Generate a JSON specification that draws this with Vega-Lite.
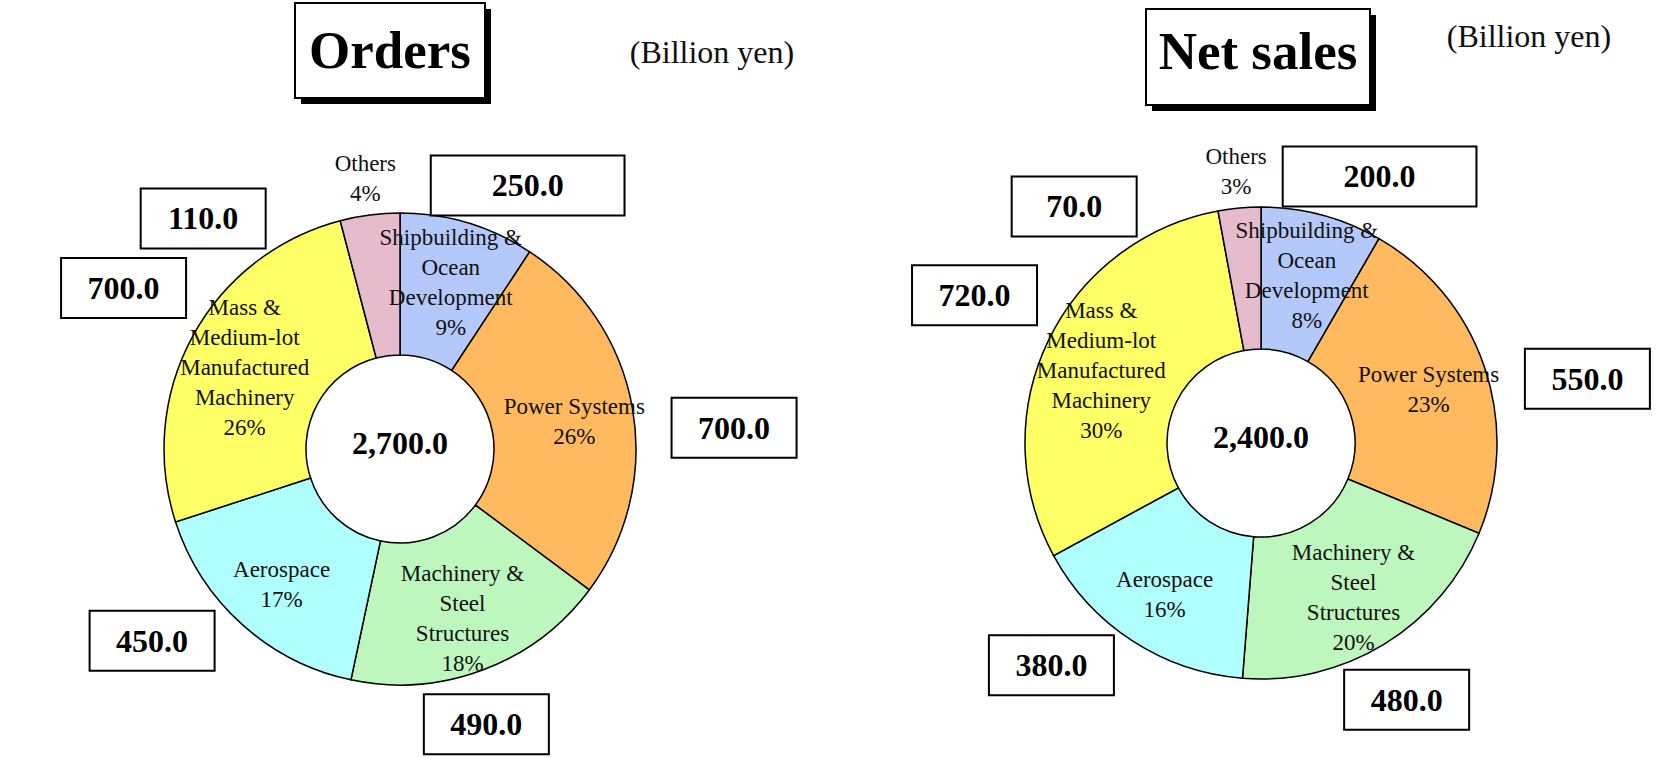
{
  "$schema": "https://vega.github.io/schema/vega-lite/v6.json",
  "padding": 0,
  "autosize": {"type": "pad"},
  "spacing": 0,
  "background": "white",
  "config": {"view": {"stroke": null}, "text": {"font": "Liberation Serif"}},
  "datasets": {
    "orders": [
      {"segment": "Shipbuilding & Ocean Development", "label": "Shipbuilding &\nOcean\nDevelopment", "value": 250, "order": 1},
      {"segment": "Power Systems", "label": "Power Systems", "value": 700, "order": 2},
      {"segment": "Machinery & Steel Structures", "label": "Machinery &\nSteel\nStructures", "value": 490, "order": 3},
      {"segment": "Aerospace", "label": "Aerospace", "value": 450, "order": 4},
      {"segment": "Mass & Medium-lot Manufactured Machinery", "label": "Mass &\nMedium-lot\nManufactured\nMachinery", "value": 700, "order": 5},
      {"segment": "Others", "label": "Others", "value": 110, "order": 6}
    ],
    "sales": [
      {"segment": "Shipbuilding & Ocean Development", "label": "Shipbuilding &\nOcean\nDevelopment", "value": 200, "order": 1},
      {"segment": "Power Systems", "label": "Power Systems", "value": 550, "order": 2},
      {"segment": "Machinery & Steel Structures", "label": "Machinery &\nSteel\nStructures", "value": 480, "order": 3},
      {"segment": "Aerospace", "label": "Aerospace", "value": 380, "order": 4},
      {"segment": "Mass & Medium-lot Manufactured Machinery", "label": "Mass &\nMedium-lot\nManufactured\nMachinery", "value": 720, "order": 5},
      {"segment": "Others", "label": "Others", "value": 70, "order": 6}
    ]
  },
  "resolve": {"scale": {"x": "independent", "y": "independent", "theta": "independent"}},
  "hconcat": [
    {
      "width": 830,
      "height": 758,
      "data": {"name": "orders"},
      "transform": [
        {"joinaggregate": [{"op": "sum", "field": "value", "as": "total"}]},
        {"window": [{"op": "sum", "field": "value", "as": "cum"}], "sort": [{"field": "order", "order": "ascending"}], "frame": [null, 0]},
        {"calculate": "datum.cum - datum.value / 2", "as": "midv"},
        {"calculate": "2 * PI * datum.midv / datum.total + (datum.value / datum.total < 0.05 ? -0.5 : 0.1)", "as": "ang"},
        {"calculate": "335 * sin(datum.ang)", "as": "bx"},
        {"calculate": "285 * cos(datum.ang)", "as": "by"},
        {"calculate": "datum.label + '\\n' + format(datum.value / datum.total, '.0%')", "as": "txt"}
      ],
      "layer": [
        {
          "transform": [{"filter": "datum.order === 1"}],
          "mark": {"type": "rect", "color": "black"},
          "encoding": {
            "x": {"datum": -99, "type": "quantitative", "scale": {"domain": [-400, 430], "nice": false, "zero": false}, "axis": null},
            "x2": {"datum": 91},
            "y": {"datum": 440, "type": "quantitative", "scale": {"domain": [-309, 449], "nice": false, "zero": false}, "axis": null},
            "y2": {"datum": 345}
          }
        },
        {
          "transform": [{"filter": "datum.order === 1"}],
          "mark": {"type": "rect", "fill": "white", "stroke": "black", "strokeWidth": 2},
          "encoding": {
            "x": {"datum": -105, "type": "quantitative", "scale": {"domain": [-400, 430], "nice": false, "zero": false}, "axis": null},
            "x2": {"datum": 85},
            "y": {"datum": 446, "type": "quantitative", "scale": {"domain": [-309, 449], "nice": false, "zero": false}, "axis": null},
            "y2": {"datum": 351}
          }
        },
        {
          "transform": [{"filter": "datum.order === 1"}],
          "mark": {"type": "text", "fontSize": 53, "fontWeight": "bold", "align": "center", "baseline": "middle", "color": "black"},
          "encoding": {
            "x": {"datum": -10, "type": "quantitative", "scale": {"domain": [-400, 430], "nice": false, "zero": false}, "axis": null},
            "y": {"datum": 397, "type": "quantitative", "scale": {"domain": [-309, 449], "nice": false, "zero": false}, "axis": null},
            "text": {"value": "Orders"}
          }
        },
        {
          "transform": [{"filter": "datum.order === 1"}],
          "mark": {"type": "text", "fontSize": 32, "align": "center", "baseline": "middle", "color": "#111"},
          "encoding": {
            "x": {"datum": 312, "type": "quantitative", "scale": {"domain": [-400, 430], "nice": false, "zero": false}, "axis": null},
            "y": {"datum": 396, "type": "quantitative", "scale": {"domain": [-309, 449], "nice": false, "zero": false}, "axis": null},
            "text": {"value": "(Billion yen)"}
          }
        },
        {
          "mark": {"type": "arc", "outerRadius": 236, "innerRadius": 94, "stroke": "black", "strokeWidth": 1.5},
          "encoding": {
            "x": {"datum": 0, "type": "quantitative", "scale": {"domain": [-400, 430], "nice": false, "zero": false}, "axis": null},
            "y": {"datum": 0, "type": "quantitative", "scale": {"domain": [-309, 449], "nice": false, "zero": false}, "axis": null},
            "theta": {"field": "value", "type": "quantitative", "stack": true},
            "order": {"field": "order", "type": "quantitative"},
            "color": {
              "field": "segment", "type": "nominal", "legend": null,
              "scale": {
                "domain": ["Shipbuilding & Ocean Development", "Power Systems", "Machinery & Steel Structures", "Aerospace", "Mass & Medium-lot Manufactured Machinery", "Others"],
                "range": ["#b4c8fa", "#ffb95e", "#bdf7bd", "#b0ffff", "#ffff66", "#e6bccd"]
              }
            }
          }
        },
        {
          "transform": [{"filter": "datum.value / datum.total >= 0.05"}],
          "mark": {"type": "text", "radius": 177, "fontSize": 23, "lineBreak": "\n", "lineHeight": 30, "align": "center", "baseline": "middle", "color": "#111", "dy": {"expr": "-15 * (length(split(datum.txt, '\\n')) - 1) + 4"}},
          "encoding": {
            "x": {"datum": 0, "type": "quantitative", "scale": {"domain": [-400, 430], "nice": false, "zero": false}, "axis": null},
            "y": {"datum": 0, "type": "quantitative", "scale": {"domain": [-309, 449], "nice": false, "zero": false}, "axis": null},
            "theta": {"field": "midv", "type": "quantitative"},
            "text": {"field": "txt", "type": "nominal"}
          }
        },
        {
          "transform": [{"filter": "datum.value / datum.total < 0.05"}],
          "mark": {"type": "text", "radius": 272, "fontSize": 23, "lineBreak": "\n", "lineHeight": 30, "align": "center", "baseline": "middle", "color": "#111", "dy": {"expr": "-15 * (length(split(datum.txt, '\\n')) - 1)"}},
          "encoding": {
            "x": {"datum": 0, "type": "quantitative", "scale": {"domain": [-400, 430], "nice": false, "zero": false}, "axis": null},
            "y": {"datum": 0, "type": "quantitative", "scale": {"domain": [-309, 449], "nice": false, "zero": false}, "axis": null},
            "theta": {"field": "midv", "type": "quantitative"},
            "text": {"field": "txt", "type": "nominal"}
          }
        },
        {
          "mark": {"type": "text", "fontSize": 32, "fontWeight": "bold", "align": "center", "baseline": "middle", "dy": -5, "color": "black"},
          "encoding": {
            "x": {"datum": 0, "type": "quantitative", "scale": {"domain": [-400, 430], "nice": false, "zero": false}, "axis": null},
            "y": {"datum": 0, "type": "quantitative", "scale": {"domain": [-309, 449], "nice": false, "zero": false}, "axis": null},
            "text": {"aggregate": "sum", "field": "value", "type": "quantitative", "format": ",.1f"}
          }
        },
        {
          "mark": {"type": "point", "size": 15625, "filled": true, "fill": "white", "stroke": "black", "strokeWidth": 2, "opacity": 1},
          "encoding": {
            "x": {"field": "bx", "type": "quantitative", "scale": {"domain": [-400, 430], "nice": false, "zero": false}, "axis": null},
            "y": {"field": "by", "type": "quantitative", "scale": {"domain": [-309, 449], "nice": false, "zero": false}, "axis": null},
            "shape": {"condition": {"test": "datum.order === 1", "value": "M-1.55,-0.48H1.55V0.48H-1.55Z"}, "value": "M-1,-0.48H1V0.48H-1Z"}
          }
        },
        {
          "mark": {"type": "text", "fontSize": 32, "fontWeight": "bold", "align": "center", "baseline": "middle", "dy": 1, "color": "black"},
          "encoding": {
            "x": {"field": "bx", "type": "quantitative", "scale": {"domain": [-400, 430], "nice": false, "zero": false}, "axis": null},
            "y": {"field": "by", "type": "quantitative", "scale": {"domain": [-309, 449], "nice": false, "zero": false}, "axis": null},
            "text": {"field": "value", "type": "quantitative", "format": ".1f"}
          }
        }
      ]
    },
    {
      "width": 830,
      "height": 758,
      "data": {"name": "sales"},
      "transform": [
        {"joinaggregate": [{"op": "sum", "field": "value", "as": "total"}]},
        {"window": [{"op": "sum", "field": "value", "as": "cum"}], "sort": [{"field": "order", "order": "ascending"}], "frame": [null, 0]},
        {"calculate": "datum.cum - datum.value / 2", "as": "midv"},
        {"calculate": "2 * PI * datum.midv / datum.total + (datum.value / datum.total < 0.05 ? -0.5 : 0.1)", "as": "ang"},
        {"calculate": "335 * sin(datum.ang)", "as": "bx"},
        {"calculate": "285 * cos(datum.ang)", "as": "by"},
        {"calculate": "datum.label + '\\n' + format(datum.value / datum.total, '.0%')", "as": "txt"}
      ],
      "layer": [
        {
          "transform": [{"filter": "datum.order === 1"}],
          "mark": {"type": "rect", "color": "black"},
          "encoding": {
            "x": {"datum": -109, "type": "quantitative", "scale": {"domain": [-431, 399], "nice": false, "zero": false}, "axis": null},
            "x2": {"datum": 115},
            "y": {"datum": 428, "type": "quantitative", "scale": {"domain": [-315, 443], "nice": false, "zero": false}, "axis": null},
            "y2": {"datum": 332}
          }
        },
        {
          "transform": [{"filter": "datum.order === 1"}],
          "mark": {"type": "rect", "fill": "white", "stroke": "black", "strokeWidth": 2},
          "encoding": {
            "x": {"datum": -115, "type": "quantitative", "scale": {"domain": [-431, 399], "nice": false, "zero": false}, "axis": null},
            "x2": {"datum": 109},
            "y": {"datum": 434, "type": "quantitative", "scale": {"domain": [-315, 443], "nice": false, "zero": false}, "axis": null},
            "y2": {"datum": 338}
          }
        },
        {
          "transform": [{"filter": "datum.order === 1"}],
          "mark": {"type": "text", "fontSize": 53, "fontWeight": "bold", "align": "center", "baseline": "middle", "color": "black"},
          "encoding": {
            "x": {"datum": -3, "type": "quantitative", "scale": {"domain": [-431, 399], "nice": false, "zero": false}, "axis": null},
            "y": {"datum": 390, "type": "quantitative", "scale": {"domain": [-315, 443], "nice": false, "zero": false}, "axis": null},
            "text": {"value": "Net sales"}
          }
        },
        {
          "transform": [{"filter": "datum.order === 1"}],
          "mark": {"type": "text", "fontSize": 32, "align": "center", "baseline": "middle", "color": "#111"},
          "encoding": {
            "x": {"datum": 268, "type": "quantitative", "scale": {"domain": [-431, 399], "nice": false, "zero": false}, "axis": null},
            "y": {"datum": 406, "type": "quantitative", "scale": {"domain": [-315, 443], "nice": false, "zero": false}, "axis": null},
            "text": {"value": "(Billion yen)"}
          }
        },
        {
          "mark": {"type": "arc", "outerRadius": 236, "innerRadius": 94, "stroke": "black", "strokeWidth": 1.5},
          "encoding": {
            "x": {"datum": 0, "type": "quantitative", "scale": {"domain": [-431, 399], "nice": false, "zero": false}, "axis": null},
            "y": {"datum": 0, "type": "quantitative", "scale": {"domain": [-315, 443], "nice": false, "zero": false}, "axis": null},
            "theta": {"field": "value", "type": "quantitative", "stack": true},
            "order": {"field": "order", "type": "quantitative"},
            "color": {
              "field": "segment", "type": "nominal", "legend": null,
              "scale": {
                "domain": ["Shipbuilding & Ocean Development", "Power Systems", "Machinery & Steel Structures", "Aerospace", "Mass & Medium-lot Manufactured Machinery", "Others"],
                "range": ["#b4c8fa", "#ffb95e", "#bdf7bd", "#b0ffff", "#ffff66", "#e6bccd"]
              }
            }
          }
        },
        {
          "transform": [{"filter": "datum.value / datum.total >= 0.05"}],
          "mark": {"type": "text", "radius": 177, "fontSize": 23, "lineBreak": "\n", "lineHeight": 30, "align": "center", "baseline": "middle", "color": "#111", "dy": {"expr": "-15 * (length(split(datum.txt, '\\n')) - 1) + 4"}},
          "encoding": {
            "x": {"datum": 0, "type": "quantitative", "scale": {"domain": [-431, 399], "nice": false, "zero": false}, "axis": null},
            "y": {"datum": 0, "type": "quantitative", "scale": {"domain": [-315, 443], "nice": false, "zero": false}, "axis": null},
            "theta": {"field": "midv", "type": "quantitative"},
            "text": {"field": "txt", "type": "nominal"}
          }
        },
        {
          "transform": [{"filter": "datum.value / datum.total < 0.05"}],
          "mark": {"type": "text", "radius": 272, "fontSize": 23, "lineBreak": "\n", "lineHeight": 30, "align": "center", "baseline": "middle", "color": "#111", "dy": {"expr": "-15 * (length(split(datum.txt, '\\n')) - 1)"}},
          "encoding": {
            "x": {"datum": 0, "type": "quantitative", "scale": {"domain": [-431, 399], "nice": false, "zero": false}, "axis": null},
            "y": {"datum": 0, "type": "quantitative", "scale": {"domain": [-315, 443], "nice": false, "zero": false}, "axis": null},
            "theta": {"field": "midv", "type": "quantitative"},
            "text": {"field": "txt", "type": "nominal"}
          }
        },
        {
          "mark": {"type": "text", "fontSize": 32, "fontWeight": "bold", "align": "center", "baseline": "middle", "dy": -5, "color": "black"},
          "encoding": {
            "x": {"datum": 0, "type": "quantitative", "scale": {"domain": [-431, 399], "nice": false, "zero": false}, "axis": null},
            "y": {"datum": 0, "type": "quantitative", "scale": {"domain": [-315, 443], "nice": false, "zero": false}, "axis": null},
            "text": {"aggregate": "sum", "field": "value", "type": "quantitative", "format": ",.1f"}
          }
        },
        {
          "mark": {"type": "point", "size": 15625, "filled": true, "fill": "white", "stroke": "black", "strokeWidth": 2, "opacity": 1},
          "encoding": {
            "x": {"field": "bx", "type": "quantitative", "scale": {"domain": [-431, 399], "nice": false, "zero": false}, "axis": null},
            "y": {"field": "by", "type": "quantitative", "scale": {"domain": [-315, 443], "nice": false, "zero": false}, "axis": null},
            "shape": {"condition": {"test": "datum.order === 1", "value": "M-1.55,-0.48H1.55V0.48H-1.55Z"}, "value": "M-1,-0.48H1V0.48H-1Z"}
          }
        },
        {
          "mark": {"type": "text", "fontSize": 32, "fontWeight": "bold", "align": "center", "baseline": "middle", "dy": 1, "color": "black"},
          "encoding": {
            "x": {"field": "bx", "type": "quantitative", "scale": {"domain": [-431, 399], "nice": false, "zero": false}, "axis": null},
            "y": {"field": "by", "type": "quantitative", "scale": {"domain": [-315, 443], "nice": false, "zero": false}, "axis": null},
            "text": {"field": "value", "type": "quantitative", "format": ".1f"}
          }
        }
      ]
    }
  ]
}
